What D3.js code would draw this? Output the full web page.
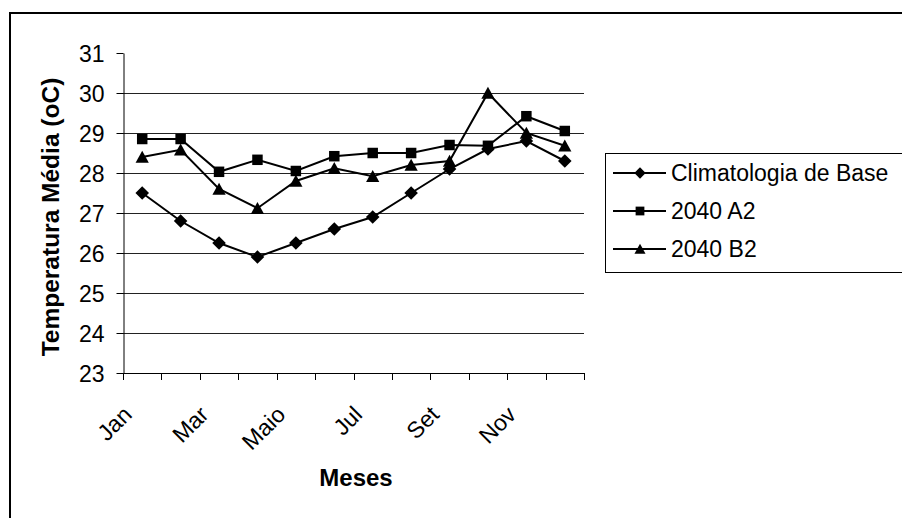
<!DOCTYPE html>
<html>
<head>
<meta charset="utf-8">
<script src="https://cdn.jsdelivr.net/npm/d3@7"></script>
<style>
  body { margin: 0; background: #fff; }
  text { font-family: "Liberation Sans", Arial, sans-serif; fill: #000; }
</style>
</head>
<body>
<div id="plot"></div>
<script>
let months = ['Jan', 'Fev', 'Mar', 'Abr', 'Maio', 'Jun', 'Jul', 'Ago', 'Set', 'Out', 'Nov', 'Dez'];
let shownMonths = ['Jan', 'Mar', 'Maio', 'Jul', 'Set', 'Nov'];
let yTicks = [23, 24, 25, 26, 27, 28, 29, 30, 31];

let baseValues = [27.5, 26.8, 26.25, 25.9, 26.25, 26.6, 26.9, 27.5, 28.1, 28.6, 28.8, 28.3];
let a2Values   = [28.85, 28.85, 28.03, 28.33, 28.05, 28.42, 28.5, 28.5, 28.7, 28.68, 29.42, 29.05];
let b2Values   = [28.4, 28.58, 27.6, 27.12, 27.8, 28.12, 27.92, 28.2, 28.3, 30.0, 29.0, 28.68];

let seriesNames = ['Climatologia de Base', '2040 A2', '2040 B2'];

let W = 902, H = 518;
let plot = { left: 123, right: 584, top: 53, bottom: 373 };

// marker shapes (diamond = square turned 45deg, like the spreadsheet marker)
let diamond = { draw: function(ctx, size) { let r = Math.sqrt(size / 2); ctx.moveTo(0, -r); ctx.lineTo(r, 0); ctx.lineTo(0, r); ctx.lineTo(-r, 0); ctx.closePath(); } };
let square = { draw: function(ctx, size) { let r = Math.sqrt(size) / 2; ctx.rect(-r, -r, 2 * r, 2 * r); } };
let triangle = { draw: function(ctx, size) { let r = Math.sqrt(size) / 2; ctx.moveTo(0, -r * 1.05); ctx.lineTo(r * 1.1, r * 0.95); ctx.lineTo(-r * 1.1, r * 0.95); ctx.closePath(); } };
let seriesSymbols = [diamond, square, triangle];
let symSize = [92, 110, 145];

let svg = d3.select('#plot')
    .append('svg')
        .attr('width', W)
        .attr('height', H);

// outer frame (runs off the right / bottom edges like the source)
svg.append('rect')
    .attr('x', 10).attr('y', 13)
    .attr('width', 1000).attr('height', 1000)
    .attr('fill', 'none')
    .attr('stroke', '#000')
    .attr('stroke-width', 2);

let x = d3.scaleBand()
    .domain(months)
    .range([plot.left, plot.right]);

let y = d3.scaleLinear()
    .domain([23, 31])
    .range([plot.bottom, plot.top]);

// gridlines
svg.append('g')
    .selectAll('line')
    .data(yTicks.filter(t => t > 23 && t < 31))
    .enter()
    .append('line')
        .attr('x1', plot.left).attr('x2', plot.right)
        .attr('y1', d => Math.round(y(d)) + 0.5)
        .attr('y2', d => Math.round(y(d)) + 0.5)
        .attr('stroke', '#222')
        .attr('stroke-width', 1);

// y axis
let yAxis = d3.axisLeft(y)
    .tickValues(yTicks)
    .tickSizeInner(7)
    .tickSizeOuter(0)
    .tickPadding(12)
    .tickFormat(d3.format('d'));

let gy = svg.append('g')
    .attr('transform', 'translate(' + (plot.left + 0.5) + ',0)')
    .call(yAxis);
gy.selectAll('text').style('font-size', '23px').attr('dy', '0.36em');
gy.selectAll('line, path').attr('stroke', '#000');

// x axis: ticks on category boundaries
let boundaries = months.map(m => x(m)).concat([plot.right]);
let gx = svg.append('g');
gx.append('line')
    .attr('x1', plot.left).attr('x2', plot.right)
    .attr('y1', plot.bottom + 0.5).attr('y2', plot.bottom + 0.5)
    .attr('stroke', '#000');
gx.selectAll('.tk')
    .data(boundaries)
    .enter()
    .append('line')
        .attr('x1', d => Math.round(d) + 0.5).attr('x2', d => Math.round(d) + 0.5)
        .attr('y1', plot.bottom).attr('y2', plot.bottom + 7)
        .attr('stroke', '#000');

gx.selectAll('.lbl')
    .data(shownMonths)
    .enter()
    .append('text')
        .attr('transform', d => 'translate(' + (x(d) + x.bandwidth() / 2 - 9) + ',' + (plot.bottom + 43) + ') rotate(-45)')
        .attr('text-anchor', 'end')
        .style('font-size', '23px')
        .text(d => d);

// axis titles
svg.append('text')
    .attr('transform', 'translate(59,' + ((plot.top + plot.bottom) / 2 + 4) + ') rotate(-90)')
    .attr('text-anchor', 'middle')
    .style('font-size', '24.5px')
    .style('font-weight', 'bold')
    .text('Temperatura Média (oC)');

svg.append('text')
    .attr('x', 356)
    .attr('y', 486)
    .attr('text-anchor', 'middle')
    .style('font-size', '24px')
    .style('font-weight', 'bold')
    .text('Meses');

// series
let allSeries = [baseValues, a2Values, b2Values].map(function(vals, i) {
    return { name: seriesNames[i], symbol: seriesSymbols[i], values: vals.map((v, j) => ({ month: months[j], value: v })) };
});

let line = d3.line()
    .x(d => x(d.month) + x.bandwidth() / 2)
    .y(d => y(d.value));

let gs = svg.selectAll('.series')
    .data(allSeries)
    .enter()
    .append('g');

gs.append('path')
    .attr('d', d => line(d.values))
    .attr('fill', 'none')
    .attr('stroke', '#000')
    .attr('stroke-width', 2);

gs.each(function(s, i) {
    d3.select(this).selectAll('path.m')
        .data(s.values)
        .enter()
        .append('path')
            .attr('class', 'm')
            .attr('transform', d => 'translate(' + (x(d.month) + x.bandwidth() / 2) + ',' + y(d.value) + ')')
            .attr('d', d3.symbol().type(s.symbol).size(symSize[i]))
            .attr('fill', '#000');
});

// legend
let lg = svg.append('g');
lg.append('rect')
    .attr('x', 605.5).attr('y', 153.5)
    .attr('width', 400).attr('height', 119)
    .attr('fill', '#fff')
    .attr('stroke', '#000');

let rowY = [173, 211, 249];
allSeries.forEach(function(s, i) {
    lg.append('line')
        .attr('x1', 613).attr('x2', 666)
        .attr('y1', rowY[i]).attr('y2', rowY[i])
        .attr('stroke', '#000').attr('stroke-width', 2);
    lg.append('path')
        .attr('transform', 'translate(640,' + rowY[i] + ')')
        .attr('d', d3.symbol().type(s.symbol).size(symSize[i] * 0.7))
        .attr('fill', '#000');
    lg.append('text')
        .attr('x', 671)
        .attr('y', rowY[i])
        .attr('dy', '0.36em')
        .style('font-size', '23px')
        .text(s.name);
});
</script>
</body>
</html>
